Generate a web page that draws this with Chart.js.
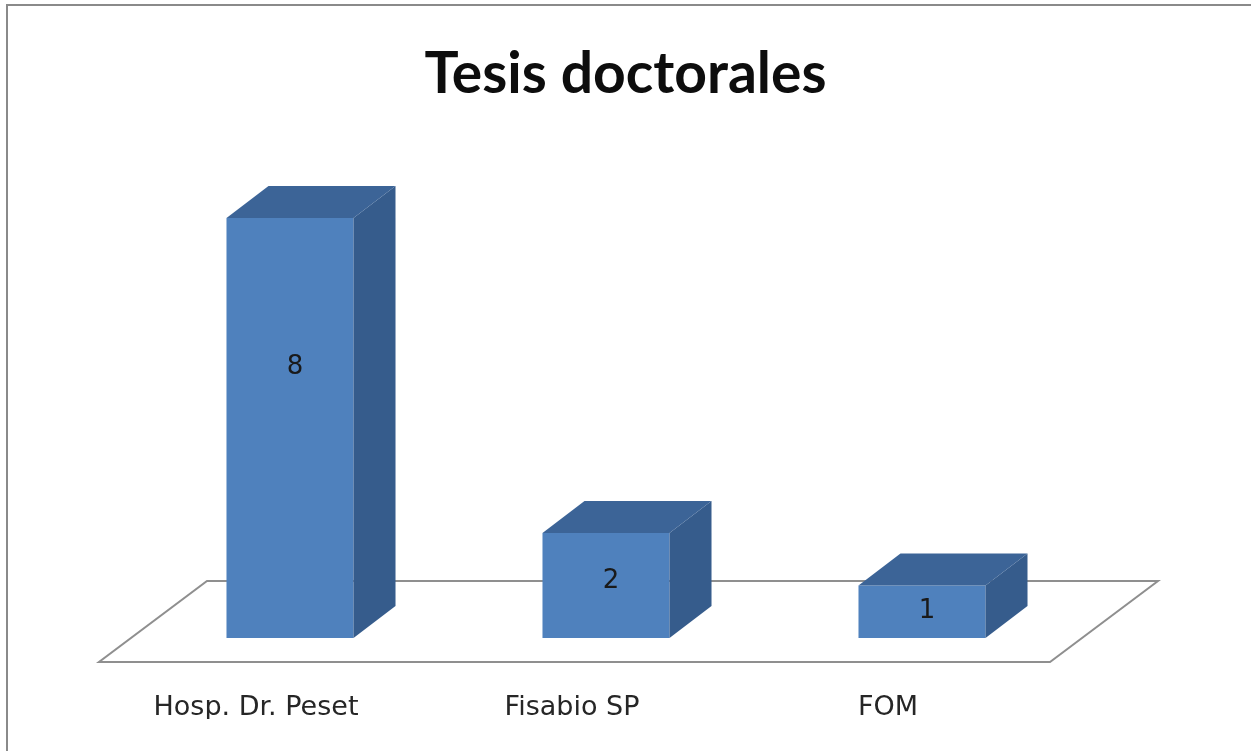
<!DOCTYPE html>
<html>
<head>
<meta charset="utf-8">
<script src="https://cdn.jsdelivr.net/npm/chart.js@4.4.1/dist/chart.umd.min.js"></script>
<style>
  html, body { margin: 0; padding: 0; background: #fff; }
  #wrap { width: 1251px; height: 751px; position: relative; }
</style>
</head>
<body>
<div id="wrap"><canvas id="chart" width="1251" height="751"></canvas></div>
<script>
const categories = ['Hosp. Dr. Peset', 'Fisabio SP', 'FOM'];
const tesis = [8, 2, 1];

const FRONT = '#4f81bd';
const TOP = '#3c6497';
const SIDE = '#365c8c';
const DEPTH = { dx: 42, dy: -32 };

// floor, 3d faces of the bars and the value labels
const box3d = {
    id: 'box3d',
    beforeDraw(chart) {
        const { ctx, width, height } = chart;
        ctx.save();
        ctx.fillStyle = '#fff';
        ctx.fillRect(0, 0, width, height);
        ctx.strokeStyle = '#8a8a8a';
        ctx.lineWidth = 2;
        ctx.beginPath();
        ctx.moveTo(7, height + 5);
        ctx.lineTo(7, 5);
        ctx.lineTo(width + 5, 5);
        ctx.stroke();
        ctx.restore();
    },
    beforeDatasetsDraw(chart) {
        const { ctx, chartArea: a } = chart;
        ctx.save();
        ctx.beginPath();
        ctx.moveTo(a.left - 33, a.bottom + 24);
        ctx.lineTo(a.right - 30, a.bottom + 24);
        ctx.lineTo(a.right + 78, a.bottom - 57);
        ctx.lineTo(a.left + 75, a.bottom - 57);
        ctx.closePath();
        ctx.fillStyle = '#fff';
        ctx.fill();
        ctx.strokeStyle = '#8f8f8f';
        ctx.lineWidth = 2;
        ctx.stroke();
        ctx.restore();
    },
    afterDatasetsDraw(chart) {
        const { ctx } = chart;
        const { dx, dy } = DEPTH;
        chart.getDatasetMeta(0).data.forEach((bar, i) => {
            const x0 = bar.x - bar.width / 2, x1 = bar.x + bar.width / 2;
            const top = bar.y, bottom = bar.base;
            ctx.save();
            ctx.fillStyle = SIDE;
            ctx.beginPath();
            ctx.moveTo(x1, top);
            ctx.lineTo(x1 + dx, top + dy);
            ctx.lineTo(x1 + dx, bottom + dy);
            ctx.lineTo(x1, bottom);
            ctx.closePath();
            ctx.fill();
            ctx.fillStyle = TOP;
            ctx.beginPath();
            ctx.moveTo(x0, top);
            ctx.lineTo(x0 + dx, top + dy);
            ctx.lineTo(x1 + dx, top + dy);
            ctx.lineTo(x1, top);
            ctx.closePath();
            ctx.fill();

            const h = bottom - top;
            const ly = top + h / 2 - 0.000344 * h * h;
            ctx.fillStyle = '#1a1a1a';
            ctx.font = '26px "DejaVu Sans"';
            ctx.textAlign = 'center';
            ctx.textBaseline = 'middle';
            ctx.fillText(String(tesis[i]), bar.x + 5, ly);
            ctx.restore();
        });
    }
};

new Chart(document.getElementById('chart'), {
    type: 'bar',
    data: {
        labels: categories,
        datasets: [{
            data: tesis,
            backgroundColor: FRONT,
            borderWidth: 0,
            barPercentage: 0.402,
            categoryPercentage: 1
        }]
    },
    options: {
        responsive: false,
        animation: false,
        layout: { padding: { top: 0, bottom: 32, left: 0, right: 0 } },
        plugins: {
            legend: { display: false },
            tooltip: { enabled: false },
            title: {
                display: true,
                text: 'Tesis doctorales',
                color: '#0d0d0d',
                font: { family: 'Lato', weight: 'bold', size: 57, lineHeight: 1.2 },
                padding: { top: 40, bottom: 57 }
            }
        },
        scales: {
            x: {
                grid: { display: false, drawTicks: false },
                border: { display: false },
                ticks: {
                    color: '#262626',
                    font: { family: 'DejaVu Sans', size: 27 },
                    padding: 54,
                    labelOffset: -34,
                    maxRotation: 0
                },
                afterFit(scale) { scale.height = 81; }
            },
            y: {
                min: 0, max: 9,
                grid: { display: false, drawTicks: false },
                border: { display: false },
                ticks: { display: false },
                afterFit(scale) { scale.width = 132; }
            },
            yRight: {
                position: 'right',
                min: 0, max: 1,
                grid: { display: false, drawTicks: false },
                border: { display: false },
                ticks: { display: false },
                afterFit(scale) { scale.width = 171; }
            }
        }
    },
    plugins: [box3d]
});
</script>
</body>
</html>
